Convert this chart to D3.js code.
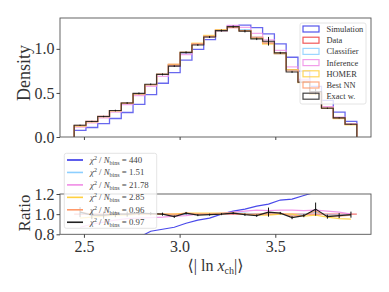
<!DOCTYPE html>
<html>
<head>
<meta charset="utf-8">
<script src="https://cdn.jsdelivr.net/npm/d3@7"></script>
<style>
body { margin: 0; background: #fff; }
svg { display: block; font-family: "Liberation Serif", "DejaVu Serif", serif; }
</style>
</head>
<body>
<svg width="389" height="292"></svg>
<script>
// histogram binning
var binLo = 2.449, binHi = 3.926, nBins = 24;

// densities
var dataDensity = [0.13, 0.178, 0.235, 0.30, 0.385, 0.49, 0.595, 0.71, 0.825, 0.95, 1.055, 1.14,
    1.207, 1.24, 1.207, 1.13, 1.065, 0.945, 0.765, 0.63, 0.49, 0.335, 0.22, 0.145];
var simDensity = [0.075, 0.108, 0.152, 0.21, 0.278, 0.37, 0.48, 0.61, 0.73, 0.873, 0.995, 1.105,
    1.208, 1.257, 1.27, 1.24, 1.17, 1.056, 0.905, 0.747, 0.575, 0.415, 0.283, 0.178];

// ratios to data
var simRatio = [0.58, 0.61, 0.65, 0.70, 0.73, 0.77, 0.83, 0.85, 0.87, 0.91, 0.94, 0.96,
    1.0, 1.03, 1.05, 1.08, 1.10, 1.14, 1.15, 1.185, 1.22, 1.24, 1.29, 1.23];
var classifierRatio = [1.01, 1.0, 0.99, 1.0, 1.0, 1.0, 1.0, 1.0, 0.99, 1.0, 1.0, 1.0,
    1.0, 1.01, 1.01, 1.0, 1.01, 1.0, 0.99, 1.0, 1.02, 0.99, 0.99, 0.99];
var inferenceRatio = [0.87, 0.90, 0.92, 0.94, 0.955, 0.96, 0.965, 0.97, 0.98, 0.985, 1.0, 1.0,
    1.01, 1.02, 1.03, 1.04, 1.035, 1.04, 1.04, 1.035, 1.04, 1.03, 1.02, 1.0];
var homerRatio = [0.96, 0.97, 0.98, 0.99, 0.99, 1.0, 1.0, 1.0, 1.0, 1.01, 1.01, 1.01,
    1.01, 1.01, 1.0, 0.99, 0.99, 1.0, 1.0, 0.98, 0.99, 0.97, 0.955, 0.95];
var bestNNRatio = [1.02, 1.0, 0.99, 1.0, 1.0, 1.0, 1.0, 1.0, 0.99, 1.01, 1.0, 1.0,
    1.0, 1.01, 1.0, 1.0, 1.01, 1.01, 0.98, 0.99, 1.03, 0.98, 0.98, 0.99];
var exactRatio = [1.02, 0.99, 0.99, 1.0, 1.0, 1.01, 1.005, 1.0, 0.975, 1.01, 0.99, 0.995,
    1.0, 1.01, 0.995, 0.985, 1.02, 1.01, 0.965, 0.985, 1.05, 0.975, 0.985, 0.995];
var exactErr = [0.05, 0.04, 0.035, 0.03, 0.025, 0.02, 0.015, 0.015, 0.012, 0.012, 0.01, 0.01,
    0.01, 0.01, 0.012, 0.012, 0.045, 0.012, 0.015, 0.015, 0.065, 0.02, 0.025, 0.03];

var legendNames = ["Simulation", "Data", "Classifier", "Inference", "HOMER", "Best NN", "Exact w."];
var legendColors = ["#3535e8", "#ee3b3b", "#8ccfff", "#f08ce6", "#ffd040", "#ff9a6a", "#222222"];
var chiValues = ["440", "1.51", "21.78", "2.85", "0.96", "0.97"];

var svg = d3.select("svg");
var left = 60, right = 371;
var topY0 = 18, topY1 = 137, botY0 = 194, botY1 = 234.3;

var edges = d3.range(nBins + 1).map(i => binLo + i * (binHi - binLo) / nBins);
var centers = d3.range(nBins).map(i => (edges[i] + edges[i + 1]) / 2);

var x = d3.scaleLinear().domain([2.375, 4.0]).range([left, right]);
var yTop = d3.scaleLinear().domain([0, 1.35]).range([topY1, topY0]);
var yBot = d3.scaleLinear().domain([0.8, 1.2]).range([botY1, botY0]);

function stepPoints(h) {
    var pts = [[edges[0], 0]];
    h.forEach((v, i) => { pts.push([edges[i], v]); pts.push([edges[i + 1], v]); });
    pts.push([edges[nBins], 0]);
    return pts;
}
var stepLine = d3.line().x(d => x(d[0])).y(d => yTop(d[1]));

// model histograms: Simulation, Data, and data scaled by the model ratios
var hists = [
    simDensity,
    dataDensity,
    dataDensity.map((d, i) => d * classifierRatio[i]),
    dataDensity.map((d, i) => d * inferenceRatio[i]),
    dataDensity.map((d, i) => d * homerRatio[i]),
    dataDensity.map((d, i) => d * bestNNRatio[i]),
    dataDensity.map((d, i) => d * exactRatio[i])
];

var topG = svg.append("g");
hists.forEach((h, k) => {
    topG.append("path")
        .attr("d", stepLine(stepPoints(h)))
        .attr("fill", "none")
        .attr("stroke", legendColors[k])
        .attr("stroke-width", k == 6 ? 1.1 : 1.3)
        .attr("stroke-opacity", k == 6 ? 0.9 : 0.75);
});
// error bars on the exact histogram
topG.selectAll(".eb").data(centers).enter().append("line")
    .attr("x1", d => x(d)).attr("x2", d => x(d))
    .attr("y1", (d, i) => yTop(hists[6][i] * (1 - exactErr[i])))
    .attr("y2", (d, i) => yTop(hists[6][i] * (1 + exactErr[i])))
    .attr("stroke", "#111").attr("stroke-width", 1);

// ratio panel
svg.append("clipPath").attr("id", "clipBot").append("rect")
    .attr("x", left).attr("y", botY0).attr("width", right - left).attr("height", botY1 - botY0);
var botG = svg.append("g").attr("clip-path", "url(#clipBot)");
var ratioLine = d3.line().x((d, i) => x(centers[i])).y(d => yBot(d));

botG.append("line")
    .attr("x1", x(edges[0])).attr("x2", x(edges[nBins]))
    .attr("y1", yBot(1)).attr("y2", yBot(1))
    .attr("stroke", "#ee3b3b").attr("stroke-width", 1.2).attr("stroke-opacity", 0.7);

var ratios = [simRatio, classifierRatio, inferenceRatio, homerRatio, bestNNRatio, exactRatio];
var ratioColors = [legendColors[0], legendColors[2], legendColors[3], legendColors[4], legendColors[5], legendColors[6]];
ratios.forEach((r, k) => {
    botG.append("path")
        .attr("d", ratioLine(r))
        .attr("fill", "none")
        .attr("stroke", ratioColors[k])
        .attr("stroke-width", 1.2)
        .attr("stroke-opacity", k == 5 ? 1 : 0.9);
});
botG.selectAll(".reb").data(centers).enter().append("line")
    .attr("x1", d => x(d)).attr("x2", d => x(d))
    .attr("y1", (d, i) => yBot(exactRatio[i] - exactErr[i]))
    .attr("y2", (d, i) => yBot(exactRatio[i] + exactErr[i]))
    .attr("stroke", "#111").attr("stroke-width", 1);

// axes
function frame(y0, y1) {
    svg.append("rect").attr("x", left).attr("y", y0)
        .attr("width", right - left).attr("height", y1 - y0)
        .attr("fill", "none").attr("stroke", "#555").attr("stroke-width", 0.9);
}
frame(topY0, topY1);
frame(botY0, botY1);

function styleAxis(g) {
    g.select(".domain").remove();
    g.selectAll(".tick line").attr("stroke", "#444");
    g.selectAll(".tick text").attr("fill", "#333")
        .style("font-family", "'Liberation Serif', serif").style("font-size", "16px");
}

svg.append("g").attr("transform", `translate(${left},0)`)
    .call(d3.axisLeft(yTop).tickValues([0, 0.5, 1.0]).tickFormat(d3.format(".1f")).tickSize(3.5).tickPadding(2))
    .call(styleAxis);
svg.append("g").attr("transform", `translate(0,${topY1})`)
    .call(d3.axisBottom(x).tickValues([2.5, 3.0, 3.5]).tickFormat("").tickSize(3))
    .call(styleAxis);
svg.append("g").attr("transform", `translate(${left},0)`)
    .call(d3.axisLeft(yBot).tickValues([0.8, 1.0, 1.2]).tickFormat(d3.format(".1f")).tickSize(3.5).tickPadding(2))
    .call(styleAxis);
svg.append("g").attr("transform", `translate(0,${botY1})`)
    .call(d3.axisBottom(x).tickValues([2.5, 3.0, 3.5]).tickFormat(d3.format(".1f")).tickSize(3.5).tickPadding(3))
    .call(styleAxis);

// axis labels
svg.append("text").attr("transform", "translate(30,73) rotate(-90)")
    .attr("text-anchor", "middle").attr("font-size", 18).attr("fill", "#333").text("Density");
svg.append("text").attr("transform", "translate(30,213) rotate(-90)")
    .attr("text-anchor", "middle").attr("font-size", 17).attr("fill", "#333").text("Ratio");
var xl = svg.append("text").attr("x", 215.5).attr("y", 271).attr("text-anchor", "middle")
    .attr("font-size", 16).attr("fill", "#333");
xl.append("tspan").text("\u27E8| ln ");
xl.append("tspan").attr("font-style", "italic").text("x");
xl.append("tspan").attr("font-size", 10).attr("dy", 3).text("ch");
xl.append("tspan").attr("dy", -3).text("|\u27E9");

// top legend
var lg = svg.append("g");
lg.append("rect").attr("x", 300).attr("y", 23).attr("width", 66).attr("height", 81)
    .attr("rx", 2).attr("fill", "#fff").attr("fill-opacity", 0.8)
    .attr("stroke", "#ddd").attr("stroke-width", 0.8);
legendNames.forEach((name, k) => {
    var cy = 29 + k * 11.2;
    lg.append("rect").attr("x", 303).attr("y", cy - 3).attr("width", 16).attr("height", 6)
        .attr("fill", "none").attr("stroke", legendColors[k]).attr("stroke-width", 1.2)
        .attr("stroke-opacity", 0.85);
    lg.append("text").attr("x", 326.5).attr("y", cy + 3).attr("font-size", 8.4)
        .attr("fill", "#333").text(name);
});

// ratio legend
var lb = svg.append("g");
lb.append("rect").attr("x", 64.3).attr("y", 153.3).attr("width", 92.4).attr("height", 75)
    .attr("rx", 2).attr("fill", "#fff").attr("fill-opacity", 0.8)
    .attr("stroke", "#ddd").attr("stroke-width", 0.8);
chiValues.forEach((v, k) => {
    var cy = 160 + k * 12.45;
    lb.append("line").attr("x1", 67).attr("x2", 83).attr("y1", cy).attr("y2", cy)
        .attr("stroke", ratioColors[k]).attr("stroke-width", 1.6);
    var t = lb.append("text").attr("x", 90).attr("y", cy + 3).attr("font-size", 8.8)
        .attr("fill", "#444");
    t.append("tspan").attr("font-style", "italic").text("\u03C7");
    t.append("tspan").attr("font-size", 6).attr("dy", -3.2).text("2");
    t.append("tspan").attr("dy", 3.2).text(" / ");
    t.append("tspan").attr("font-style", "italic").text("N");
    t.append("tspan").attr("font-size", 6).attr("dy", 2).text("bins");
    t.append("tspan").attr("dy", -2).text(" = " + v);
});
</script>
</body>
</html>
